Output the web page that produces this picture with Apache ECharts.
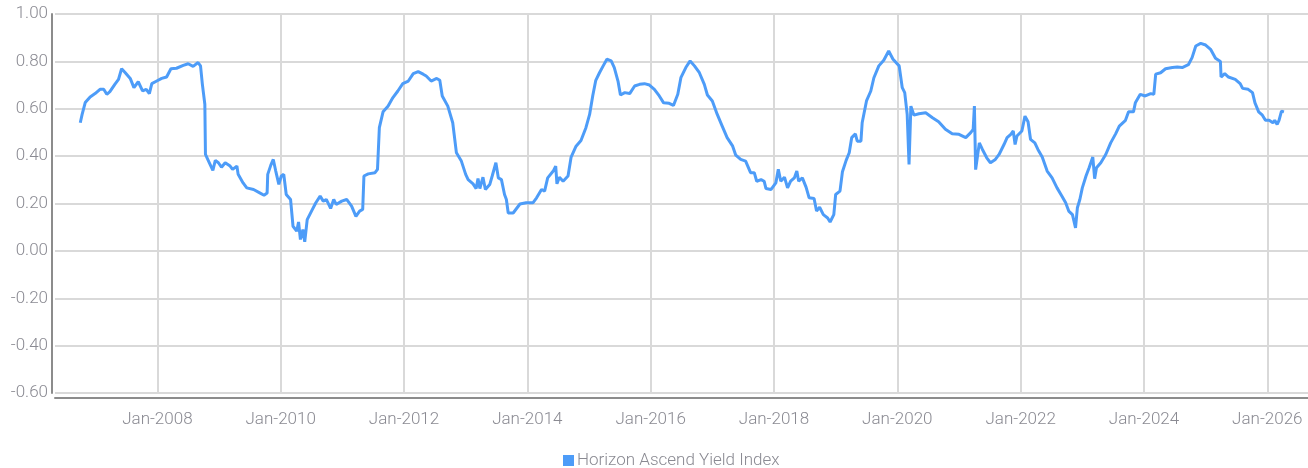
<!DOCTYPE html>
<html>
<head>
<meta charset="utf-8">
<script src="https://cdn.jsdelivr.net/npm/echarts@6/dist/echarts.min.js"></script>
<style>html,body{margin:0;padding:0;background:#fff}#c{width:1308px;height:468px}</style>
</head>
<body>
<div id="c"></div>
<script>
const seriesName = 'Horizon Ascend Yield Index';

// decimal years (x)
const years = [
2006.75,2006.78,2006.83,2006.91,2006.99,2007.07,2007.13,2007.18,2007.23,2007.31,2007.37,2007.42,2007.48,2007.56,2007.62,2007.69,2007.76,2007.82,2007.87,2007.91,2007.99,
2008.07,2008.15,2008.22,2008.31,2008.42,2008.50,2008.58,2008.66,2008.70,2008.73,2008.77,2008.78,2008.83,2008.86,2008.90,2008.94,2008.99,
2009.04,2009.10,2009.18,2009.22,2009.29,2009.31,2009.39,2009.45,2009.56,2009.66,2009.73,2009.78,2009.79,2009.84,2009.88,2009.92,2009.97,
2010.01,2010.05,2010.09,2010.16,2010.20,2010.26,2010.29,2010.32,2010.36,2010.39,2010.43,2010.50,2010.57,2010.64,2010.69,2010.74,2010.81,2010.86,2010.90,2010.99,
2011.07,2011.15,2011.22,2011.28,2011.33,2011.35,2011.42,2011.53,2011.57,2011.60,2011.66,2011.74,2011.82,2011.90,2011.98,
2012.07,2012.15,2012.23,2012.31,2012.36,2012.44,2012.53,2012.58,2012.62,2012.71,2012.79,2012.85,2012.93,
2013.00,2013.04,2013.12,2013.17,2013.20,2013.23,2013.28,2013.32,2013.39,2013.43,2013.49,2013.53,2013.58,2013.63,2013.66,2013.69,2013.77,2013.88,2013.98,
2014.09,2014.15,2014.23,2014.28,2014.33,2014.42,2014.46,2014.48,2014.52,2014.58,2014.66,2014.71,2014.79,2014.87,2014.95,
2015.01,2015.06,2015.11,2015.17,2015.23,2015.29,2015.36,2015.41,2015.47,2015.51,2015.58,2015.66,2015.74,2015.82,2015.90,2015.98,
2016.06,2016.14,2016.21,2016.30,2016.37,2016.44,2016.49,2016.57,2016.64,2016.71,2016.79,2016.87,2016.92,
2017.00,2017.08,2017.16,2017.24,2017.33,2017.38,2017.46,2017.54,2017.62,2017.68,2017.72,2017.79,2017.84,2017.87,2017.95,
2018.03,2018.07,2018.11,2018.17,2018.22,2018.27,2018.33,2018.37,2018.40,2018.46,2018.52,2018.57,2018.65,2018.69,2018.74,2018.80,2018.87,2018.91,2018.97,
2019.00,2019.07,2019.11,2019.17,2019.22,2019.26,2019.32,2019.35,2019.41,2019.43,2019.50,2019.57,2019.62,2019.70,2019.78,2019.86,2019.93,
2020.03,2020.08,2020.12,2020.16,2020.19,2020.22,2020.27,2020.35,2020.46,2020.57,2020.67,2020.78,2020.89,
2021.00,2021.11,2021.19,2021.23,2021.25,2021.27,2021.33,2021.38,2021.45,2021.51,2021.59,2021.65,2021.73,2021.78,2021.84,2021.88,2021.91,2021.94,
2022.02,2022.07,2022.12,2022.16,2022.23,2022.28,2022.35,2022.43,2022.51,2022.59,2022.67,2022.73,2022.78,2022.84,2022.89,2022.92,2022.96,
2023.00,2023.06,2023.11,2023.17,2023.20,2023.23,2023.30,2023.38,2023.46,2023.54,2023.60,2023.70,2023.75,2023.83,2023.86,2023.94,
2024.02,2024.11,2024.16,2024.19,2024.27,2024.35,2024.46,2024.54,2024.62,2024.72,2024.78,2024.84,2024.92,
2025.00,2025.08,2025.16,2025.24,2025.25,2025.31,2025.37,2025.48,2025.56,2025.60,2025.69,2025.76,2025.80,2025.86,2025.92,2025.97,
2026.03,2026.09,2026.12,2026.16,2026.19,2026.23,2026.27
];

// index values
const values = [
0.541,0.576,0.626,0.650,0.664,0.682,0.682,0.661,0.672,0.703,0.724,0.769,0.752,0.728,0.689,0.714,0.675,0.682,0.664,0.706,0.717,
0.728,0.734,0.769,0.771,0.783,0.790,0.779,0.795,0.781,0.703,0.619,0.407,0.379,0.386,0.340,0.382,0.372,
0.353,0.372,0.358,0.344,0.358,0.323,0.287,0.266,0.259,0.245,0.235,0.244,0.323,0.362,0.386,0.337,0.281,
0.316,0.323,0.238,0.217,0.104,0.083,0.122,0.048,0.090,0.038,0.132,0.168,0.203,0.231,0.210,0.217,0.179,0.217,0.196,0.210,
0.217,0.189,0.146,0.168,0.175,0.316,0.325,0.330,0.344,0.520,0.587,0.611,0.647,0.675,0.706,
0.717,0.748,0.757,0.746,0.738,0.717,0.728,0.720,0.654,0.611,0.541,0.414,0.379,
0.323,0.301,0.283,0.263,0.305,0.263,0.311,0.259,0.280,0.316,0.372,0.308,0.301,0.238,0.217,0.160,0.160,0.198,0.203,
0.203,0.224,0.259,0.252,0.308,0.337,0.358,0.283,0.311,0.294,0.316,0.396,0.442,0.466,0.520,
0.576,0.654,0.720,0.752,0.781,0.809,0.802,0.774,0.717,0.658,0.668,0.664,0.696,0.703,0.706,0.700,
0.682,0.654,0.625,0.623,0.614,0.661,0.731,0.774,0.802,0.781,0.752,0.703,0.658,
0.633,0.576,0.527,0.478,0.442,0.404,0.386,0.379,0.330,0.330,0.294,0.301,0.294,0.263,0.259,
0.287,0.344,0.294,0.311,0.266,0.294,0.308,0.337,0.294,0.308,0.269,0.224,0.221,0.168,0.184,0.153,0.139,0.122,0.153,
0.238,0.252,0.334,0.382,0.414,0.478,0.494,0.463,0.463,0.541,0.633,0.675,0.731,0.781,0.805,0.844,0.809,
0.781,0.689,0.668,0.576,0.365,0.611,0.573,0.579,0.583,0.562,0.545,0.513,0.494,
0.492,0.478,0.499,0.513,0.611,0.343,0.456,0.428,0.393,0.372,0.386,0.407,0.449,0.478,0.492,0.506,0.449,0.485,
0.506,0.569,0.545,0.471,0.456,0.428,0.396,0.337,0.308,0.266,0.231,0.203,0.168,0.153,0.097,0.182,0.217,
0.266,0.316,0.351,0.396,0.305,0.351,0.372,0.407,0.456,0.494,0.527,0.551,0.587,0.587,0.625,0.661,
0.654,0.664,0.661,0.746,0.752,0.769,0.774,0.776,0.774,0.786,0.816,0.865,0.876,
0.869,0.851,0.813,0.799,0.734,0.748,0.734,0.724,0.706,0.686,0.682,0.668,0.625,0.587,0.573,0.551,
0.551,0.541,0.551,0.534,0.551,0.590,0.587
];

const tickYears = [2008,2010,2012,2014,2016,2018,2020,2022,2024,2026];
const tickLabels = ['Jan-2008','Jan-2010','Jan-2012','Jan-2014','Jan-2016','Jan-2018','Jan-2020','Jan-2022','Jan-2024','Jan-2026'];

const lineColor = '#4d9cf8';
const labelColor = '#8a8a92';
const font = 'Roboto';

const chart = echarts.init(document.getElementById('c'), null, {renderer: 'canvas'});
chart.setOption({
  animation: false,
  backgroundColor: '#fff',
  grid: {left: 55, right: 0, top: 14, bottom: 75, containLabel: false},
  legend: {
    data: [seriesName],
    left: 558, top: 447,
    icon: 'rect', itemWidth: 11, itemHeight: 11,
    textStyle: {color: labelColor, fontSize: 17, fontFamily: font, fontWeight: 300, padding: [0,0,0,-2]}
  },
  xAxis: {
    type: 'value',
    min: 2006.34, max: 2026.66,
    offset: 5,
    axisLine: {show: true, onZero: false, lineStyle: {color: '#8c8c8c', width: 2}},
    axisTick: {show: false, customValues: tickYears},
    axisLabel: {
      customValues: tickYears,
      margin: 13,
      color: labelColor, fontSize: 17, fontFamily: font, fontWeight: 300,
      formatter: v => tickLabels[tickYears.indexOf(Math.round(v))] || ''
    },
    splitLine: {show: true, lineStyle: {color: '#d9d9d9', width: 2}}
  },
  yAxis: {
    type: 'value',
    min: -0.6, max: 1.0, interval: 0.2,
    offset: 3,
    axisLine: {show: true, lineStyle: {color: '#8c8c8c', width: 2}},
    axisTick: {show: false},
    axisLabel: {margin: 4, color: labelColor, fontSize: 17, fontFamily: font, fontWeight: 300,
      formatter: v => v.toFixed(2)},
    splitLine: {show: true, lineStyle: {color: '#d9d9d9', width: 2}}
  },
  series: [{
    name: seriesName,
    type: 'line',
    data: years.map((y, i) => [y, values[i]]),
    showSymbol: false,
    symbol: 'none',
    lineStyle: {color: lineColor, width: 3},
    itemStyle: {color: lineColor}
  }]
});
</script>
</body>
</html>
